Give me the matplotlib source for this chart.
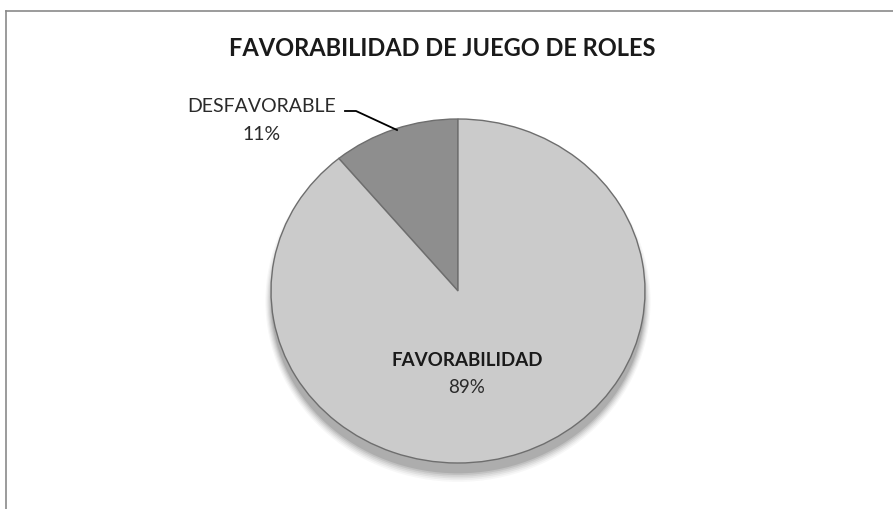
import matplotlib
matplotlib.use('Agg')
import matplotlib.pyplot as plt
from matplotlib.patches import Ellipse

# datos
etiquetas = ['DESFAVORABLE', 'FAVORABILIDAD']
valores = [11, 89]
colores = ['#8e8e8e', '#cbcbcb']
titulo = 'FAVORABILIDAD DE JUEGO DE ROLES'

W, H = 893, 510
fig = plt.figure(figsize=(W / 100, H / 100), dpi=100)
fig.patch.set_facecolor('white')

def fx(x):
    return x / W

def fy(y):
    return 1 - y / H

# marco del gráfico (solo arriba e izquierda visibles)
fig.add_artist(plt.Line2D([fx(6), fx(893)], [fy(12), fy(12)], color='#8a8a8a', lw=1.2))
fig.add_artist(plt.Line2D([fx(6), fx(6)], [fy(12), fy(510)], color='#8a8a8a', lw=1.2))

# ejes de la torta (centro ~ (458, 292), rx 187, ry 172)
cx, cy, rx, ry = 458, 292, 187, 172
ax = fig.add_axes([fx(cx - rx), fy(cy + ry), 2 * rx / W, 2 * ry / H])

# sombra difusa
for i, a in enumerate([0.03, 0.04, 0.05, 0.06, 0.08, 0.10]):
    grow = 0.10 - i * 0.02
    e = Ellipse((0, -0.06), 2 + grow * 0.6, 2 + grow, color='black', alpha=a, lw=0, zorder=0)
    e.set_clip_on(False)
    ax.add_patch(e)

wedges, _ = ax.pie(valores, colors=colores, startangle=90, counterclock=True,
                   wedgeprops=dict(edgecolor='#6e6e6e', linewidth=1.0))
for w in wedges:
    w.set_zorder(2)
    w.set_clip_on(False)
ax.set_aspect('auto')
ax.set_xlim(-1, 1)
ax.set_ylim(-1, 1)
ax.axis('off')

fuente = 'Lato'
fig.text(fx(442), fy(48), titulo, ha='center', va='center', fontsize=17,
         fontweight='bold', family=fuente, color='#1a1a1a')

fig.text(fx(262), fy(107), etiquetas[0], ha='center', va='center', fontsize=14,
         family=fuente, color='#2a2a2a')
fig.text(fx(262), fy(135), f'{valores[0]}%', ha='center', va='center', fontsize=14,
         family=fuente, color='#2a2a2a')
fig.add_artist(plt.Line2D([fx(345), fx(356), fx(397)], [fy(112), fy(112), fy(131)],
                          color='black', lw=1.3))

fig.text(fx(467), fy(360), etiquetas[1], ha='center', va='center', fontsize=13.5,
         fontweight='bold', family=fuente, color='#1a1a1a')
fig.text(fx(467), fy(388), f'{valores[1]}%', ha='center', va='center', fontsize=13.5,
         family=fuente, color='#2a2a2a')

fig.savefig('out.png', dpi=100)
